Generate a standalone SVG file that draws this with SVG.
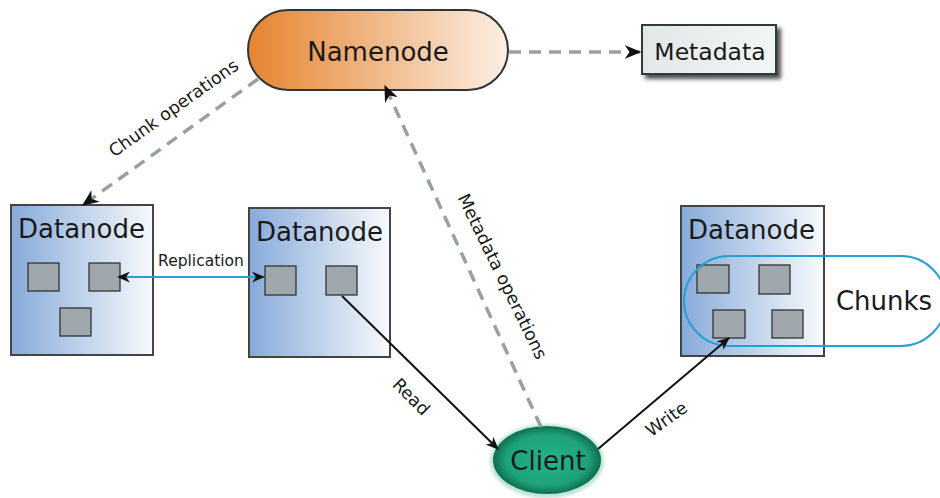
<svg xmlns="http://www.w3.org/2000/svg" width="940" height="498" viewBox="0 0 940 498">
<defs>
<linearGradient id="gName" x1="0" y1="0" x2="1" y2="0"><stop offset="0" stop-color="#e5842f"/><stop offset="1" stop-color="#fcefe4"/></linearGradient>
<linearGradient id="gData" x1="0" y1="0" x2="1" y2="0"><stop offset="0" stop-color="#87aad9"/><stop offset="1" stop-color="#f8fafd"/></linearGradient>
<linearGradient id="gMeta" x1="0" y1="0" x2="1" y2="0"><stop offset="0" stop-color="#e2e8e7"/><stop offset="1" stop-color="#f3f5f5"/></linearGradient>
<radialGradient id="gClient" cx="0.5" cy="0.5" r="0.5"><stop offset="0" stop-color="#22b487"/><stop offset="0.75" stop-color="#1ea27a"/><stop offset="1" stop-color="#0f6e52"/></radialGradient>
<filter id="shadow" x="-20%" y="-30%" width="150%" height="170%"><feGaussianBlur in="SourceAlpha" stdDeviation="2"/><feOffset dx="4" dy="4"/><feComponentTransfer><feFuncA type="linear" slope="0.7"/></feComponentTransfer><feMerge><feMergeNode/><feMergeNode in="SourceGraphic"/></feMerge></filter>
<filter id="glow" x="-20%" y="-30%" width="140%" height="160%"><feGaussianBlur stdDeviation="1.5"/></filter>
<marker id="arr" viewBox="0 0 12 10" refX="11" refY="5" markerWidth="13" markerHeight="11" markerUnits="userSpaceOnUse" orient="auto-start-reverse"><path d="M0,0 L12,5 L0,10 L3.5,5 z" fill="#111"/></marker>
<marker id="arrL" viewBox="0 0 12 10" refX="11" refY="5" markerWidth="17" markerHeight="14" markerUnits="userSpaceOnUse" orient="auto-start-reverse"><path d="M0,0 L12,5 L0,10 L3.5,5 z" fill="#111"/></marker>
</defs>
<style>
text{font-family:"DejaVu Sans","Noto Sans",sans-serif;fill:#1a1a1a}
.big{font-size:26px}
.lbl{font-size:17.5px}
.dn{fill:url(#gData);stroke:#444;stroke-width:2}
.chunk{fill:#9ea7ab;stroke:#333;stroke-width:1.3}
.dash{fill:none;stroke:#97a29e;stroke-width:3.5;stroke-dasharray:12 8}
.solid{fill:none;stroke:#111;stroke-width:2}
.blue{fill:none;stroke:#2a9fd6;stroke-width:2}
</style>

<g id="namenode">
<rect x="248" y="10" width="260" height="80" rx="40" fill="url(#gName)" stroke="#333" stroke-width="2"/>
<text class="big" x="378" y="61" text-anchor="middle">Namenode</text>
</g>

<g id="metadata">
<rect x="642" y="25" width="134" height="49" fill="url(#gMeta)" stroke="#2f3a3a" stroke-width="2" filter="url(#shadow)"/>
<text x="710" y="60" text-anchor="middle" style="font-size:23.5px">Metadata</text>
</g>

<g id="datanode1">
<rect class="dn" x="11" y="205" width="142" height="150"/>
<text class="big" x="18" y="238">Datanode</text>
<rect class="chunk" x="28" y="263" width="31" height="28"/>
<rect class="chunk" x="89" y="263" width="31" height="28"/>
<rect class="chunk" x="60" y="308" width="31" height="28"/>
</g>

<g id="datanode2">
<rect class="dn" x="249" y="208" width="141" height="149"/>
<text class="big" x="256" y="241">Datanode</text>
<rect class="chunk" x="265" y="266" width="31" height="29"/>
<rect class="chunk" x="326" y="266" width="31" height="29"/>
</g>

<g id="datanode3">
<rect class="dn" x="681" y="206" width="143" height="150"/>
<text class="big" x="688" y="239">Datanode</text>
<rect class="chunk" x="697" y="265" width="32" height="28"/>
<rect class="chunk" x="759" y="265" width="31" height="29"/>
<rect class="chunk" x="713" y="310" width="32" height="28"/>
<rect class="chunk" x="772" y="310" width="31" height="28"/>
</g>

<g id="chunks">
<rect class="blue" x="684" y="256" width="262" height="90" rx="45"/>
<text class="big" x="884" y="310" text-anchor="middle">Chunks</text>
</g>

<g id="client">
<ellipse cx="547" cy="461" rx="57" ry="37" fill="#9fd9c6" opacity="0.7" filter="url(#glow)"/>
<ellipse cx="547" cy="460" rx="54" ry="34" fill="url(#gClient)"/>
<text class="big" x="548" y="470" text-anchor="middle">Client</text>
</g>

<g id="connectors">
<line class="dash" x1="509" y1="52" x2="640" y2="52" marker-end="url(#arrL)"/>
<line class="dash" x1="258" y1="79" x2="83" y2="205" marker-end="url(#arrL)"/>
<line class="dash" x1="541" y1="427" x2="385" y2="86" marker-end="url(#arrL)"/>
<line class="blue" x1="118" y1="277" x2="264" y2="277" marker-start="url(#arr)" marker-end="url(#arr)"/>
<line class="solid" x1="342" y1="296" x2="498" y2="449" marker-end="url(#arr)"/>
<line class="solid" x1="598" y1="449" x2="729" y2="338" marker-end="url(#arr)"/>
<text class="lbl" transform="translate(177,113) rotate(-35.5)" text-anchor="middle">Chunk operations</text>
<text transform="translate(201,266)" text-anchor="middle" style="font-size:15.5px">Replication</text>
<text class="lbl" transform="translate(497,279) rotate(64)" text-anchor="middle">Metadata operations</text>
<text class="lbl" transform="translate(407,401) rotate(45)" text-anchor="middle">Read</text>
<text class="lbl" transform="translate(670,424) rotate(-36)" text-anchor="middle">Write</text>
</g>
</svg>
